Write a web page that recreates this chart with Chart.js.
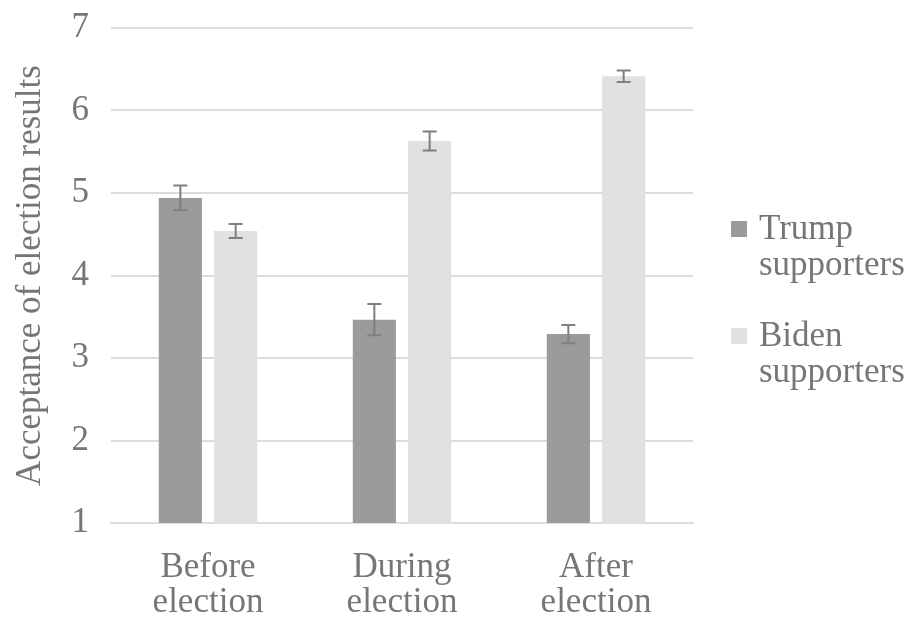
<!DOCTYPE html>
<html>
<head>
<meta charset="utf-8">
<script src="https://cdn.jsdelivr.net/npm/chart.js@4"></script>
<style>
  html, body { margin: 0; padding: 0; background: #fff; }
  #wrap { position: relative; width: 919px; height: 621px; }
  #legend { position: absolute; left: 731px; top: 210px; font-family: 'Liberation Serif', serif; font-size: 35px; color: #767676; line-height: 36px; }
  .item { position: relative; padding-left: 28px; margin-bottom: 35px; }
  .box { position: absolute; left: 0; top: 11px; width: 16px; height: 16px; }
</style>
</head>
<body>
<div id="wrap">
  <canvas id="chart" width="919" height="621"></canvas>
  <div id="legend"></div>
</div>
<script>
const categories = [['Before', 'election'], ['During', 'election'], ['After', 'election']];
const trumpMeans = [4.94, 3.465, 3.29];
const trumpErrors = [0.15, 0.19, 0.11];
const bidenMeans = [4.54, 5.63, 6.415];
const bidenErrors = [0.085, 0.115, 0.07];
const seriesNames = [['Trump', 'supporters'], ['Biden', 'supporters']];

const textColor = '#767676';
const font = { family: "'Liberation Serif', 'Times New Roman', serif", size: 35 };

// draws the +/- error bars over each bar
const errorBars = {
    id: 'errorBars',
    afterDatasetsDraw(chart) {
        const ctx = chart.ctx;
        const y = chart.scales.y;
        ctx.save();
        ctx.strokeStyle = '#7f7f7f';
        ctx.lineWidth = 2;
        chart.data.datasets.forEach((ds, i) => {
            chart.getDatasetMeta(i).data.forEach((bar, j) => {
                const top = y.getPixelForValue(ds.data[j] + ds.errors[j]);
                const bottom = y.getPixelForValue(ds.data[j] - ds.errors[j]);
                ctx.beginPath();
                ctx.moveTo(bar.x, top);
                ctx.lineTo(bar.x, bottom);
                ctx.moveTo(bar.x - 7, top);
                ctx.lineTo(bar.x + 7, top);
                ctx.moveTo(bar.x - 7, bottom);
                ctx.lineTo(bar.x + 7, bottom);
                ctx.stroke();
            });
        });
        ctx.restore();
    }
};

const data = {
    labels: categories,
    datasets: [
        { label: seriesNames[0].join(' '), data: trumpMeans, errors: trumpErrors, backgroundColor: '#9b9b9b' },
        { label: seriesNames[1].join(' '), data: bidenMeans, errors: bidenErrors, backgroundColor: '#e1e1e1' },
    ],
};

const config = {
    type: 'bar',
    data,
    options: {
        responsive: false,
        animation: false,
        categoryPercentage: 0.57,
        barPercentage: 0.78,
        layout: { padding: { top: 28, right: 226, left: 0, bottom: 0 } },
        plugins: {
            legend: { display: false },
            tooltip: { enabled: false },
        },
        scales: {
            x: {
                grid: { display: false, drawTicks: false },
                border: { color: '#dcdcdc', width: 2 },
                ticks: { color: textColor, font: { ...font, lineHeight: 1.0 }, padding: 27, maxRotation: 0 },
                afterFit(scale) { scale.height = 98; },
            },
            y: {
                min: 1,
                max: 7,
                ticks: { stepSize: 1, color: textColor, font, padding: 22 },
                grid: { color: '#dcdcdc', lineWidth: 2, drawTicks: false },
                border: { display: false },
                title: { display: true, text: 'Acceptance of election results', color: textColor, font, padding: { top: 10, bottom: 0 } },
                afterFit(scale) {
                    scale.width = 111;
                    scale.paddingTop = 0;
                    scale.paddingBottom = 0;
                },
            },
        },
    },
    plugins: [errorBars],
};

new Chart(document.getElementById('chart'), config);

// legend with two-line labels
const legend = document.getElementById('legend');
data.datasets.forEach((ds, i) => {
    const item = document.createElement('div');
    item.className = 'item';
    const box = document.createElement('span');
    box.className = 'box';
    box.style.background = ds.backgroundColor;
    item.appendChild(box);
    item.appendChild(document.createTextNode(seriesNames[i][0]));
    item.appendChild(document.createElement('br'));
    item.appendChild(document.createTextNode(seriesNames[i][1]));
    legend.appendChild(item);
});
</script>
</body>
</html>
